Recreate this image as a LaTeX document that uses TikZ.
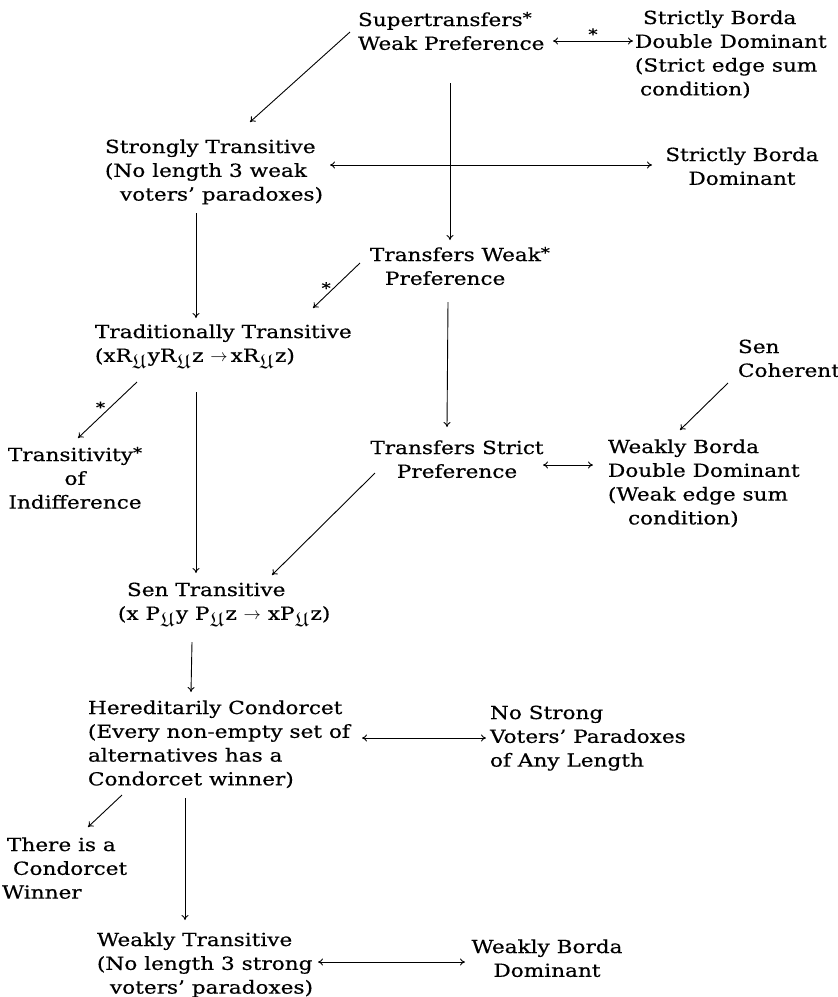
\documentclass[tikz,border=0pt]{standalone}
\usepackage{amssymb}
\usepackage{fontspec}
\setmainfont{DejaVu Serif}[FakeStretch=1.2,FakeBold=0.5]
\usetikzlibrary{arrows.meta}
\newcommand{\FU}{\kern1pt\raisebox{-7pt}{\fontsize{20}{20}\selectfont$\mathfrak{U}$}\kern2pt}
\newcommand{\supstar}{{\fontsize{15}{15}\selectfont\raisebox{3pt}{*}}}
\newcommand{\topstrut}{\rule{0pt}{18pt}}
\begin{document}
\begin{tikzpicture}[x=1pt,y=-1pt,
  txt/.style={inner sep=0pt, outer sep=0pt, anchor=north west, align=left,
    font=\fontsize{18}{23.8}\selectfont},
  ctxt/.style={txt, anchor=north, align=center},
  arr/.style={line width=0.9pt, -{To[length=5pt,width=7pt]}},
  darr/.style={line width=0.9pt, {To[length=5pt,width=7pt]}-{To[length=5pt,width=7pt]}},
  starlbl/.style={inner sep=1pt, font=\fontsize{15}{15}\selectfont}]
\fill[white] (0,0) rectangle (838,997);
\useasboundingbox (0,0) rectangle (838,997);

\node[txt] (n1) at (358,8) {\topstrut Supertransfers\supstar\\Weak Preference};
\node[txt] (n2) at (635,6) {\topstrut\hspace*{8pt}Strictly Borda\\Double Dominant\\(Strict edge sum\\\hspace*{5pt}condition)};
\node[txt] (n3) at (105,135) {\topstrut Strongly Transitive\\(No length 3 weak\\\hspace*{15pt}voters' paradoxes)};
\node[ctxt] (n4) at (742,143) {\topstrut Strictly Borda\\Dominant};
\node[txt] (n5) at (370,243) {\topstrut Transfers Weak\supstar\\\hspace*{15pt}Preference};
\node[txt] (n6) at (95,320) {\topstrut Traditionally Transitive\\(xR\FU yR\FU z $\rightarrow$\,xR\FU z)};
\node[ctxt] (n7) at (75,443) {\topstrut Transitivity\supstar\\of\\Indifference};
\node[ctxt] (n8) at (457,436) {\topstrut Transfers Strict\\Preference};
\node[txt] (n9) at (608,435) {\topstrut Weakly Borda\\Double Dominant\\(Weak edge sum\\\hspace*{20pt}condition)};
\node[txt] (n10) at (738,335) {\topstrut Sen\\Coherent};
\node[txt] (n11) at (118,578) {\topstrut\hspace*{9pt}Sen Transitive\\(x P\FU y P\FU z $\rightarrow$ xP\FU z)};
\node[txt] (n12) at (88,696) {\topstrut Hereditarily Condorcet\\(Every non-empty set of\\alternatives has a\\Condorcet winner)};
\node[txt] (n13) at (490,701) {\topstrut No Strong\\Voters' Paradoxes\\of Any Length};
\node[txt] (n14) at (2,833) {\topstrut\hspace*{5pt}There is a\\\hspace*{11pt}Condorcet\\Winner};
\node[txt] (n15) at (97,928) {\topstrut Weakly Transitive\\(No length 3 strong\\\hspace*{13pt}voters' paradoxes)};
\node[ctxt] (n16) at (547,935) {\topstrut Weakly Borda\\Dominant};

\draw[darr] ([shift={(195,33)}]n1.north west) -- node[starlbl, above=0pt] (s1) {*} ([shift={(-2,35)}]n2.north west);
\draw[arr] ([shift={(-8,24)}]n1.north west) -- ([shift={(145,-13)}]n3.north west);
\draw[arr] ([shift={(92,75)}]n1.north west) -- ([shift={(80,-3)}]n5.north west);
\draw[darr] ([shift={(225,30)}]n3.north west) -- ([shift={(-90,22)}]n4.north);
\draw[arr] ([shift={(91,78)}]n3.north west) -- ([shift={(101,-2)}]n6.north west);
\draw[arr] ([shift={(-10,20)}]n5.north west) -- node[starlbl, pos=0.55, left=2pt] (s2) {*} ([shift={(218,-12)}]n6.north west);
\draw[arr] ([shift={(78,59)}]n5.north west) -- ([shift={(-10,-9)}]n8.north);
\draw[arr] ([shift={(42,62)}]n6.north west) -- node[starlbl, pos=0.45, left=4pt] (s3) {*} ([shift={(3,-5)}]n7.north);
\draw[arr] ([shift={(101,72)}]n6.north west) -- ([shift={(78,-5)}]n11.north west);
\draw[darr] ([shift={(86,29)}]n8.north) -- ([shift={(-15,30)}]n9.north west);
\draw[arr] ([shift={(-82,37)}]n8.north) -- ([shift={(154,-3)}]n11.north west);
\draw[arr] ([shift={(-10,48)}]n10.north west) -- ([shift={(72,-5)}]n9.north west);
\draw[arr] ([shift={(74,64)}]n11.north west) -- ([shift={(103,-4)}]n12.north west);
\draw[darr] ([shift={(274,42)}]n12.north west) -- ([shift={(-4,37)}]n13.north west);
\draw[arr] ([shift={(34,99)}]n12.north west) -- ([shift={(86,-6)}]n14.north west);
\draw[arr] ([shift={(97,102)}]n12.north west) -- ([shift={(88,-8)}]n15.north west);
\draw[darr] ([shift={(221,34)}]n15.north west) -- ([shift={(-82,27)}]n16.north);
\end{tikzpicture}
\end{document}
